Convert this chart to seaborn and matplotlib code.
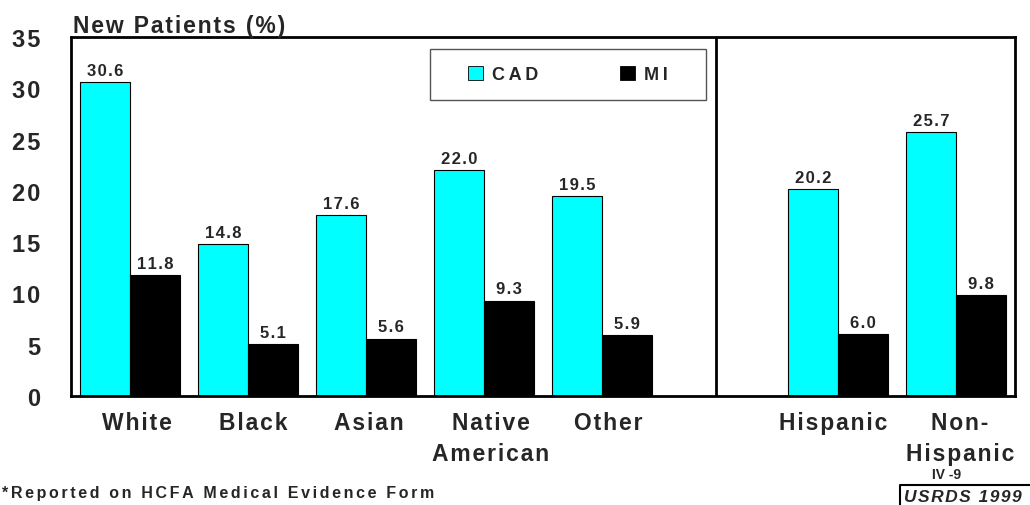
import numpy as np
import pandas as pd
import seaborn as sns
import matplotlib.pyplot as plt
from matplotlib.patches import Patch, Rectangle
from matplotlib.lines import Line2D
from matplotlib.transforms import ScaledTranslation

# Categories (race groups, then ethnicity groups) and the two series
race_groups = ["White", "Black", "Asian", "Native\nAmerican", "Other"]
ethnic_groups = ["Hispanic", "Non-\nHispanic"]
cad_values = [30.6, 14.8, 17.6, 22.0, 19.5, 20.2, 25.7]
mi_values = [11.8, 5.1, 5.6, 9.3, 5.9, 6.0, 9.8]
series_names = ["CAD", "MI"]
y_ticks = [0, 5, 10, 15, 20, 25, 30, 35]

HAIR = "\u200a"
SIXTH = "\u2006"
THIN = "\u2009"


def spaced(text, sep=HAIR):
    """Loosen the tracking of a label by putting a narrow space between letters."""
    return "\n".join(sep.join(line) for line in text.split("\n"))


groups = race_groups + ethnic_groups
df = pd.DataFrame({
    "group": groups * 2,
    "series": [series_names[0]] * len(groups) + [series_names[1]] * len(groups),
    "pct": cad_values + mi_values,
})

# an empty slot separates the race panel from the ethnicity panel
spacer = " "
order = race_groups + [spacer] + ethnic_groups
palette = {"CAD": "#00FFFF", "MI": "#000000"}

sns.set_theme(style="white")
plt.rcParams["font.family"] = ["Liberation Sans", "DejaVu Sans"]
plt.rcParams["font.weight"] = "bold"

fig = plt.figure(figsize=(10.30, 5.06), dpi=100)
ax = fig.add_axes([71 / 1030, 1 - 397 / 506, 944 / 1030, 359 / 506])

sns.barplot(data=df, x="group", y="pct", hue="series", order=order,
            hue_order=series_names, palette=palette, width=0.84, gap=0,
            edgecolor="black", linewidth=0.8, saturation=1, ax=ax,
            legend=False, errorbar=None)

for cont in ax.containers:
    ax.bar_label(cont, labels=[spaced(f"{b.get_height():.1f}") for b in cont],
                 padding=3, fontsize=12, fontweight="bold")

ax.set_ylim(0, 35)
ax.set_yticks(y_ticks)
ax.set_yticklabels([spaced(str(t)) for t in y_ticks])
ax.set_xlim(-0.5, len(order) - 0.5)
ax.set_xticks(range(len(order)))
ax.set_xticklabels([spaced(g) for g in order])
ax.set_xlabel("")
ax.set_ylabel("")

ax.tick_params(axis="y", direction="out", length=7, width=1.2, color="black",
               pad=15, labelsize=17)
ax.tick_params(axis="x", length=0, pad=11, labelsize=16.5)
for lbl in ax.get_yticklabels() + ax.get_xticklabels():
    lbl.set_fontweight("bold")

# the category captions sit slightly off their bar pairs (pixels, + = right)
label_nudge = {"White": 7, "Black": 5, "Asian": 3, "Native\nAmerican": 7,
               "Other": 6, "Hispanic": -5, "Non-\nHispanic": 4}
for name, lbl in zip(order, ax.get_xticklabels()):
    lbl.set_linespacing(1.45)
    lbl.set_verticalalignment("top")
    dx = label_nudge.get(name, 0)
    lbl.set_transform(lbl.get_transform() + ScaledTranslation(dx / 100, 0, fig.dpi_scale_trans))

for side in ["left", "right", "top", "bottom"]:
    ax.spines[side].set_visible(True)
    ax.spines[side].set_color("black")
    ax.spines[side].set_linewidth(2)

# divider between the race and ethnicity panels
ax.axvline(order.index(spacer) - 0.03, color="black", linewidth=2)

# legend: frameless entries inside a separately drawn box
box = Rectangle(((430 - 71) / 944, (397 - 101) / 359), 276 / 944, 51 / 359,
                transform=ax.transAxes, facecolor="white", edgecolor="#555555",
                linewidth=1.0, zorder=4)
ax.add_patch(box)
handles = [Patch(facecolor=palette[s], edgecolor="black", linewidth=0.6) for s in series_names]
leg = ax.legend(handles, [spaced(s, THIN) for s in series_names], ncol=2, loc="center",
                bbox_to_anchor=((568 - 71) / 944, (397 - 75.5) / 359),
                frameon=False, handlelength=0.85, handleheight=0.85,
                handletextpad=0.5, columnspacing=4.5, borderpad=0,
                prop={"weight": "bold", "size": 13})
leg.set_zorder(5)

fig.text(73 / 1030, 1 - 33 / 506, spaced("New Patients (%)"), fontsize=16.5,
         fontweight="bold", ha="left", va="baseline")
fig.text(2 / 1030, 1 - 498 / 506, spaced("*Reported on HCFA Medical Evidence Form", SIXTH),
         fontsize=11.5, fontweight="bold", ha="left", va="baseline")
fig.text(947 / 1030, 1 - 479 / 506, "IV -9", fontsize=10, fontweight="bold",
         ha="center", va="baseline")
fig.text(963 / 1030, 1 - 502 / 506, spaced("USRDS 1999"), fontsize=12.5,
         fontweight="bold", fontstyle="italic", ha="center", va="baseline")
fig.add_artist(Line2D([900 / 1030, 900 / 1030, 1.0], [0.0, 1 - 486 / 506, 1 - 486 / 506],
                      color="black", linewidth=1.5, transform=fig.transFigure))

fig.savefig("out.png", dpi=100)
